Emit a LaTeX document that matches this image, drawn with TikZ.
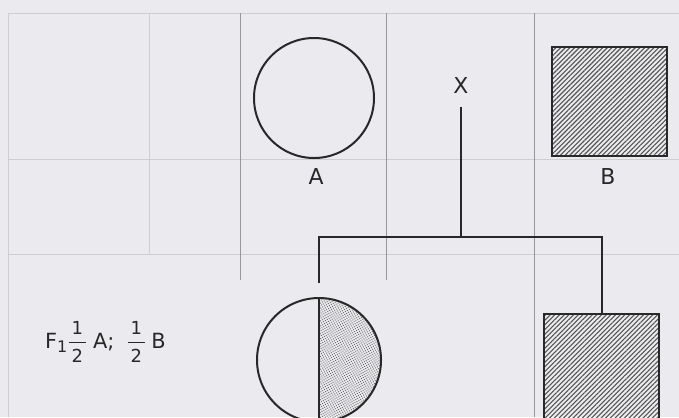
\documentclass[tikz,border=0pt]{standalone}
\usepackage{fontspec}
\setmainfont{DejaVu Sans}
\usepackage{amsmath}
\usepackage{xcolor}
\usetikzlibrary{patterns.meta, calc}
\definecolor{paperGray}{RGB}{235,235,239}
\definecolor{gridLight}{RGB}{205,205,210}
\definecolor{gridDark}{RGB}{150,150,155}
\definecolor{inkGray}{RGB}{40,40,40}
\newcommand{\halfFrac}{$\genfrac{}{}{1pt}{0}{\text{\fontsize{18}{18}\selectfont\,1\,}}{\text{\fontsize{18}{18}\selectfont\,2\,}}$}

\begin{document}
\begin{tikzpicture}[x=1bp, y=-1bp, every node/.style={font=\fontsize{22}{26}\selectfont, text=inkGray},
  pedLine/.style={draw=inkGray, line width=2bp},
  hatchFill/.style={pattern={Lines[angle=45, distance=3.3bp, line width=1.1bp]}, pattern color=inkGray!80},
  dotFill/.style={pattern={Dots[angle=30, distance=2.2bp, radius=0.65bp]}, pattern color=inkGray!70}]
  \fill[paperGray] (0,0) rectangle (679,417);
  \useasboundingbox (0,0) rectangle (679,417);
  \clip (0,0) rectangle (679,417);
  \draw[gridLight, line width=0.8bp] (8,13) -- (679,13) (8,159) -- (679,159) (8,254) -- (679,254) (8,13) -- (8,417) (149,13) -- (149,254);
  \draw[gridDark, line width=0.9bp] (240,13) -- (240,280) (386,13) -- (386,280) (534,13) -- (534,417);
  \node[pedLine, circle, minimum size=120bp, inner sep=0] (parentA) at (314,98) {};
  \node[pedLine, hatchFill, minimum width=115bp, minimum height=109bp, inner sep=0] (parentB) at (609.5,101.5) {};
  \node[anchor=base, inner sep=0] (labelA) at (316,184.5) {A};
  \node[anchor=base, inner sep=0] (labelB) at (608,184.5) {B};
  \node[anchor=base, inner sep=0] (crossMark) at (461,93) {X};
  \node[pedLine, circle, minimum size=124bp, inner sep=0, path picture={
      \fill[dotFill] (path picture bounding box.north) rectangle (path picture bounding box.south east);
      \draw[inkGray, line width=2bp] (path picture bounding box.north) -- (path picture bounding box.south);
    }] (childAB) at (319,360) {};
  \node[pedLine, hatchFill, minimum width=115bp, minimum height=150bp, inner sep=0, anchor=north] (childB) at (601.5,313) {};
  \node[anchor=base west, inner sep=0, font=\fontsize{21}{24}\selectfont] (ratioText) at (45,348) {F\raisebox{-4.5bp}{\fontsize{16}{16}\selectfont 1}\halfFrac\hspace{6bp}A;\hspace{12bp}\halfFrac\hspace{5bp}B};
  \coordinate (bar) at (461,237);
  \draw[pedLine] ([yshift=-14bp]crossMark.south) -- (bar);
  \draw[pedLine] ([yshift=14bp]childAB.north) |- (bar) -| (childB.north);
\end{tikzpicture}
\end{document}
